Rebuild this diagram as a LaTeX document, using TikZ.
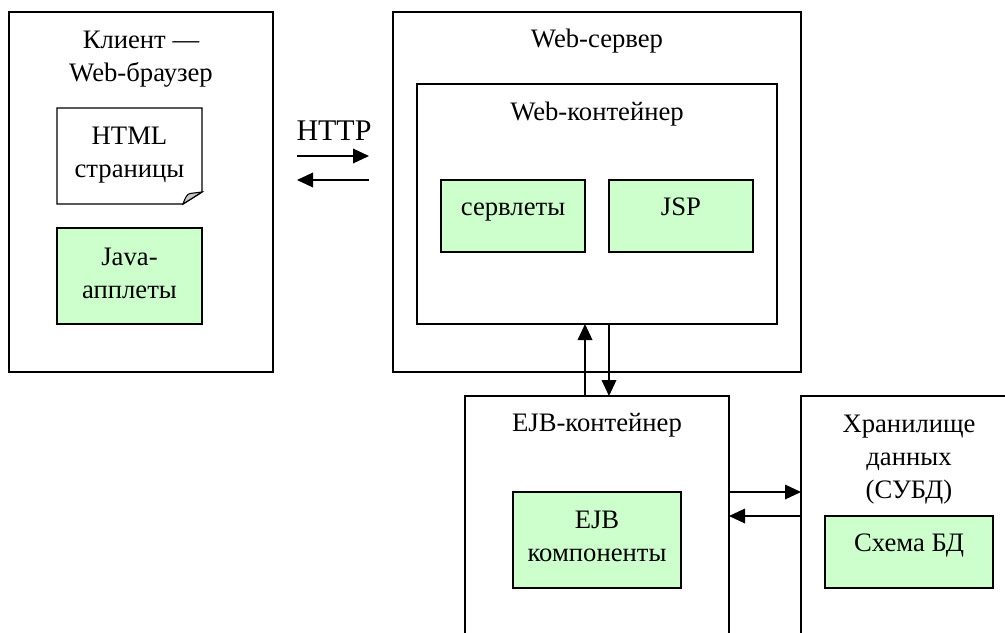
\documentclass[tikz,border=0pt]{standalone}
\usepackage{fontspec}
\setmainfont{Liberation Serif}
\usetikzlibrary{arrows.meta,calc}
\definecolor{boxgreen}{RGB}{204,255,204}
\begin{document}
\begin{tikzpicture}[x=0.75pt,y=-0.75pt,
  every node/.style={inner sep=0pt,outer sep=0pt},
  frame/.style args={#1/#2}{draw,line width=1pt,fill=white,anchor=north west,minimum width=#1*0.75pt,minimum height=#2*0.75pt},
  gbox/.style args={#1/#2}{frame=#1/#2,fill=boxgreen},
  ghost/.style args={#1/#2}{anchor=north west,minimum width=#1*0.75pt,minimum height=#2*0.75pt},
  ttl/.style={anchor=north,align=center,font=\fontsize{20pt}{24.5pt}\selectfont,execute at begin node=\strut},
  arr/.style={line width=1pt,-{Triangle[length=12pt,width=11pt]}},
]
\path[fill=white] (0,0) rectangle (1005,632);
\useasboundingbox (0,0) rectangle (1005,632);
\clip (0,0) rectangle (1005,632);

% client
\node[frame=264/360] (client) at (9,12) {};
\node[ttl] (clientT) at ($(client.north)+(0,19.5)$) {Клиент —\\Web-браузер};
\node[ghost=145/96] (html) at (57,108) {};
\draw[line width=1pt,fill=white] (html.north west) -- (html.north east) -- ($(html.south east)+(0,-12)$) -- ($(html.south east)+(-19,0)$) -- (html.south west) -- cycle;
\draw[line width=0.8pt,fill=gray!45] ($(html.south east)+(-19,0)$) .. controls ($(html.south east)+(-17,-6)$) and ($(html.south east)+(-15,-10)$) .. ($(html.south east)+(-12,-10.5)$) -- ($(html.south east)+(0,-12)$) -- cycle;
\node[ttl] (htmlT) at ($(html.north)+(0,19)$) {HTML\\страницы};
\node[gbox=145/96] (java) at (57,228) {};
\node[ttl] (javaT) at ($(java.north)+(0,20)$) {Java-\\апплеты};

% HTTP
\node[anchor=base,font=\fontsize{22.5pt}{27pt}\selectfont] (http) at (334,140) {HTTP};
\coordinate (h1s) at (297,156);
\coordinate (h1e) at (369,156);
\coordinate (h2s) at (369,180);
\coordinate (h2e) at (297,180);
\draw[arr] (h1s) -- (h1e);
\draw[arr] (h2s) -- (h2e);

% web server
\node[frame=408/360] (web) at (393,12) {};
\node[ttl] (webT) at ($(web.north)+(0,12.6)$) {Web-сервер};
\node[frame=360/240] (webc) at (417,84) {};
\node[ttl] (webcT) at ($(webc.north)+(0,13.5)$) {Web-контейнер};
\node[gbox=144/72] (servl) at (441,180) {};
\node[ttl] (servlT) at ($(servl.north)+(0,12.6)$) {сервлеты};
\node[gbox=144/72] (jsp) at (609,180) {};
\node[ttl] (jspT) at ($(jsp.north)+(0,12.6)$) {JSP};

% EJB container
\node[frame=264/280] (ejb) at (465,396) {};
\node[ttl] (ejbT) at ($(ejb.north)+(0,12.6)$) {EJB-контейнер};
\node[gbox=168/96] (ejbc) at (513,492) {};
\node[ttl] (ejbcT) at ($(ejbc.north)+(0,19)$) {EJB\\компоненты};

% storage
\node[frame=216/280] (store) at (801,396) {};
\node[ttl] (storeT) at ($(store.north)+(0,19.5)$) {Хранилище\\данных\\(СУБД)};
\node[gbox=168/72] (schema) at (825,516) {};
\node[ttl] (schemaT) at ($(schema.north)+(0,12.6)$) {Схема БД};

% connectors
\coordinate (upx) at (585,0);
\coordinate (dnx) at (609,0);
\coordinate (rty) at (0,492);
\coordinate (lfy) at (0,516);
\draw[arr] (ejb.north -| upx) -- (webc.south -| upx);
\draw[arr] (webc.south -| dnx) -- (ejb.north -| dnx);
\draw[arr] (ejb.east |- rty) -- (store.west |- rty);
\draw[arr] (store.west |- lfy) -- (ejb.east |- lfy);
\end{tikzpicture}
\end{document}
